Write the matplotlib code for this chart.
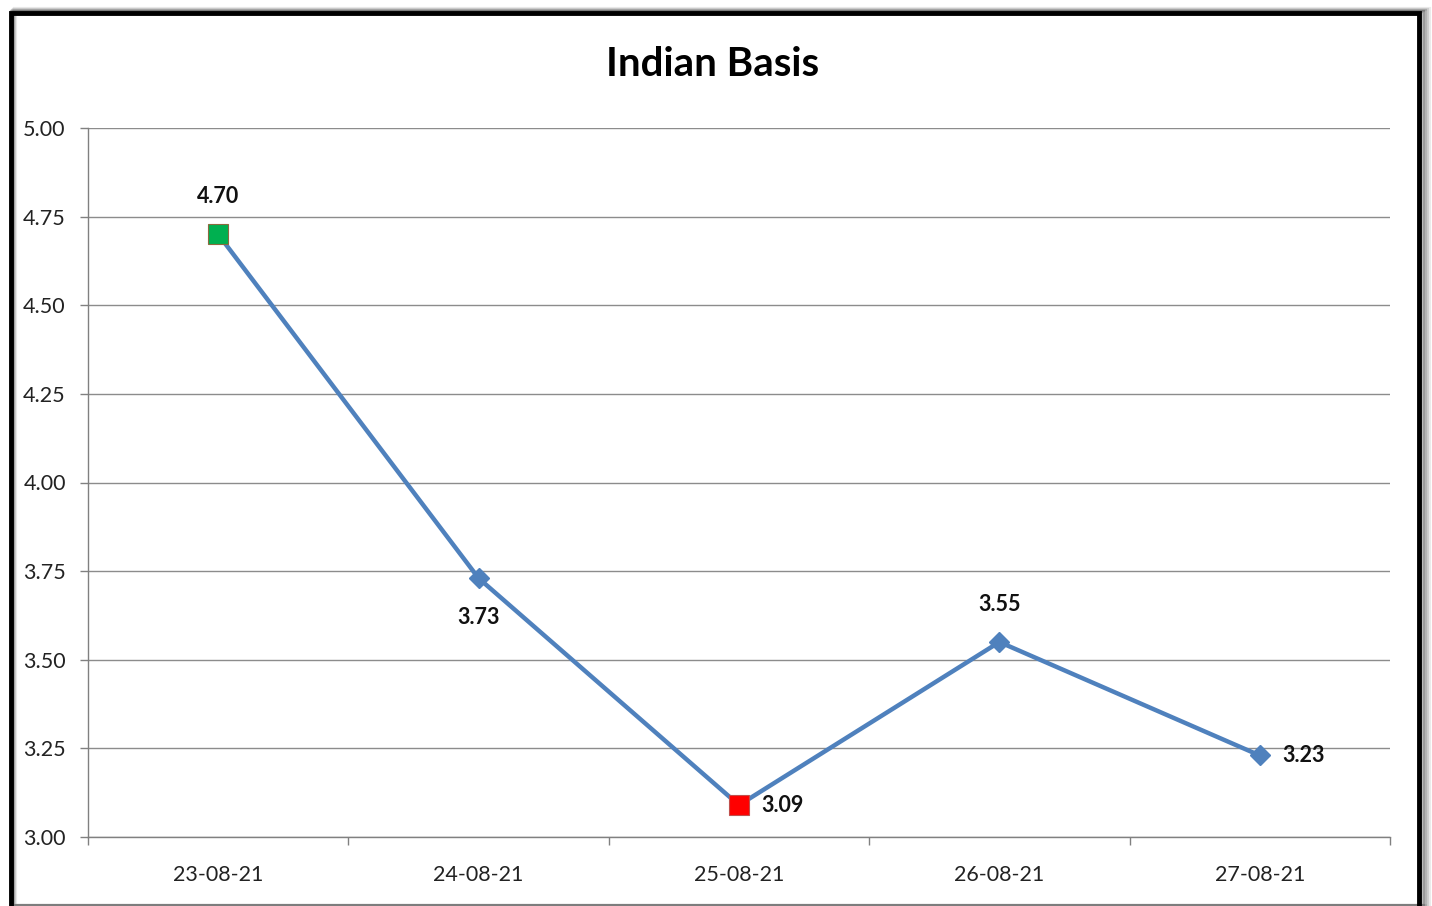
import matplotlib
matplotlib.use("Agg")
import matplotlib.pyplot as plt
from matplotlib.patches import Rectangle

categories = ["23-08-21", "24-08-21", "25-08-21", "26-08-21", "27-08-21"]
values = [4.70, 3.73, 3.09, 3.55, 3.23]
label_pos = ["above", "below", "right", "above", "right"]
y_ticks = [3.00, 3.25, 3.50, 3.75, 4.00, 4.25, 4.50, 4.75, 5.00]
title = "Indian Basis"

plt.rcParams['font.family'] = ['Lato', 'DejaVu Sans']

W, H = 1432, 906
fig = plt.figure(figsize=(W/100, H/100), dpi=100)
fig.patch.set_facecolor("white")

# frame with shadow
for i, (alpha) in enumerate([0.08, 0.12, 0.18, 0.25]):
    off = 4 - i
    fig.add_artist(Rectangle(((11 + off)/W, 0), (1410 + off)/W, (H - 13 + off)/H,
                             transform=fig.transFigure, fill=False,
                             edgecolor=(0, 0, 0, alpha), lw=3))
fig.add_artist(Rectangle((11/W, -0.01), 1408/W, (H - 13)/H + 0.01,
                         transform=fig.transFigure, fill=False,
                         edgecolor="black", lw=3.5, zorder=10))

left, right = 88/W, 1390/W
bottom, top = 1 - 837/H, 1 - 128/H
ax = fig.add_axes([left, bottom, right - left, top - bottom])

x = list(range(len(categories)))
line_color = "#4F81BD"
ax.plot(x, values, color=line_color, lw=3.2, zorder=3)
for xi, v in zip(x, values):
    if v == max(values):
        ax.plot(xi, v, marker="s", ms=14.5, mfc="#00B050", mec="#8B6A3E", mew=0.8, zorder=4)
    elif v == min(values):
        ax.plot(xi, v, marker="s", ms=14.5, mfc="#FF0000", mec="#C0504D", mew=0.8, zorder=4)
    else:
        ax.plot(xi, v, marker="D", ms=10, mfc=line_color, mec=line_color, zorder=4)

for xi, v, pos in zip(x, values, label_pos):
    if pos == "above":
        off, ha, va = (0, 27), "center", "center"
    elif pos == "below":
        off, ha, va = (0, -28), "center", "center"
    else:
        off, ha, va = (16, 0), "left", "center"
    ax.annotate(f"{v:.2f}", (xi, v), xytext=off, textcoords="offset points",
                ha=ha, va=va, fontsize=15.5, fontweight="bold", color="#111111", zorder=5)

ax.set_xlim(-0.5, len(categories) - 0.5)
ax.set_ylim(3.0, 5.0)
ax.set_yticks(y_ticks)
ax.set_yticklabels([f"{t:.2f}" for t in y_ticks])
ax.set_xticks(x)
ax.set_xticklabels(categories)
ax.set_xticks([i - 0.5 for i in range(len(categories) + 1)], minor=True)
ax.tick_params(axis="x", which="major", length=0, pad=20, labelsize=15.5, colors="#222222")
ax.tick_params(axis="x", which="minor", length=6, direction="out", color="#808080", width=1)
ax.tick_params(axis="y", length=6, direction="out", color="#808080", width=1,
               labelsize=15.5, pad=10, colors="#222222")
ax.tick_params(axis="y", colors="#808080")
for lab in ax.get_yticklabels():
    lab.set_color("#222222")

ax.grid(axis="y", color="#8C8C8C", lw=1)
ax.set_axisbelow(True)
for s in ["top", "right"]:
    ax.spines[s].set_visible(False)
for s in ["left", "bottom"]:
    ax.spines[s].set_color("#808080")
    ax.spines[s].set_linewidth(1)

fig.text(713/W, 1 - 64/H, title, ha="center", va="center", fontsize=29,
         fontweight="bold", color="black")

fig.savefig("out.png", dpi=100)
